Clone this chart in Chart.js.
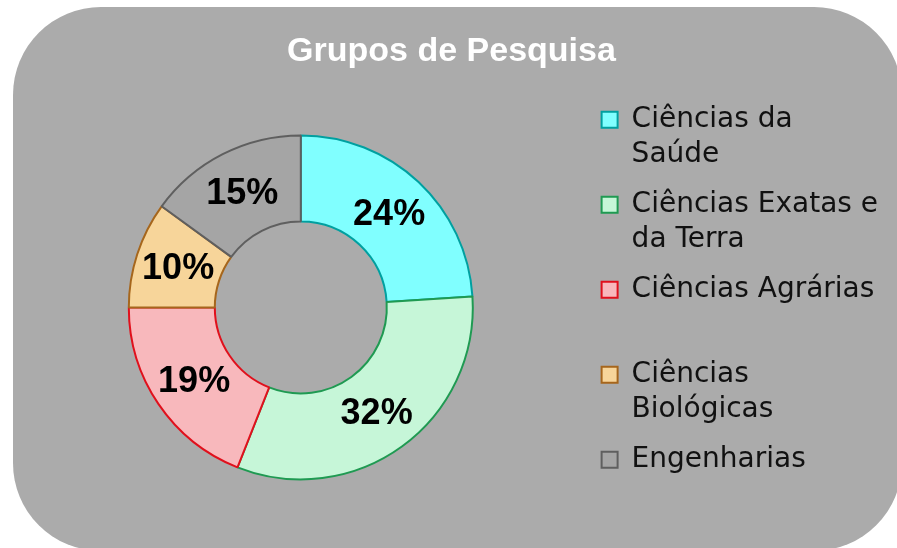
<!DOCTYPE html>
<html lang="pt">
<head>
<meta charset="utf-8">
<title>Grupos de Pesquisa</title>
<script src="https://cdn.jsdelivr.net/npm/chart.js@4/dist/chart.umd.min.js"></script>
<style>
  html, body { margin: 0; padding: 0; background: #fff; overflow: hidden; }
  #panel {
    position: absolute; left: 13px; top: 7px;
    width: 889px; height: 544px;
    border-radius: 88px;
    background: #ababab;
  }
  #chart { position: absolute; left: 0; top: 0; }
</style>
</head>
<body>
<div id="panel"></div>
<canvas id="chart" width="897" height="548"></canvas>
<script>
const titleText = "Grupos de Pesquisa";

// legend lines, wrapped the way they show next to the ring
const categories = [
  ["Ciências da", "Saúde"],
  ["Ciências Exatas e", "da Terra"],
  ["Ciências Agrárias", ""],
  ["Ciências", "Biológicas"],
  "Engenharias"
];
const shares = [24, 32, 19, 10, 15];

const fillColors = ["#80ffff", "#c6f6d8", "#f8b8bc", "#f7d59a", "#a5a5a5"];
const edgeColors = ["#00a0a0", "#1f9a52", "#e0101c", "#a6661c", "#5f5f5f"];

// percent text in the middle of every slice
const sliceLabels = {
  id: "sliceLabels",
  afterDatasetsDraw(chart) {
    const { ctx } = chart;
    const meta = chart.getDatasetMeta(0);
    ctx.save();
    ctx.font = 'bold 36px "Liberation Sans", Arial, sans-serif';
    ctx.fillStyle = "#000";
    ctx.textAlign = "center";
    ctx.textBaseline = "middle";
    meta.data.forEach((arc, i) => {
      const p = arc.tooltipPosition();
      ctx.fillText(shares[i] + "%", p.x, p.y + 2);
    });
    ctx.restore();
  }
};

new Chart(document.getElementById("chart"), {
  type: "doughnut",
  data: {
    labels: categories,
    datasets: [{
      data: shares,
      backgroundColor: fillColors,
      borderColor: edgeColors,
      borderWidth: 2,
      radius: 172,
      cutout: "50%"
    }]
  },
  options: {
    responsive: false,
    animation: false,
    layout: { padding: { top: 0, left: 15, right: 9, bottom: 24 } },
    plugins: {
      title: {
        display: true,
        text: titleText,
        color: "#fff",
        font: { family: '"Liberation Sans", Arial, sans-serif', size: 34, weight: "bold", lineHeight: 1.2 },
        padding: { top: 31, bottom: 19 }
      },
      legend: {
        position: "right",
        align: "start",
        fullSize: false,
        labels: {
          boxWidth: 16,
          boxHeight: 16,
          padding: 15,
          color: "#111",
          font: { family: '"DejaVu Sans", sans-serif', size: 28, lineHeight: 1.25 }
        }
      },
      tooltip: { enabled: false }
    }
  },
  plugins: [sliceLabels]
});
</script>
</body>
</html>
